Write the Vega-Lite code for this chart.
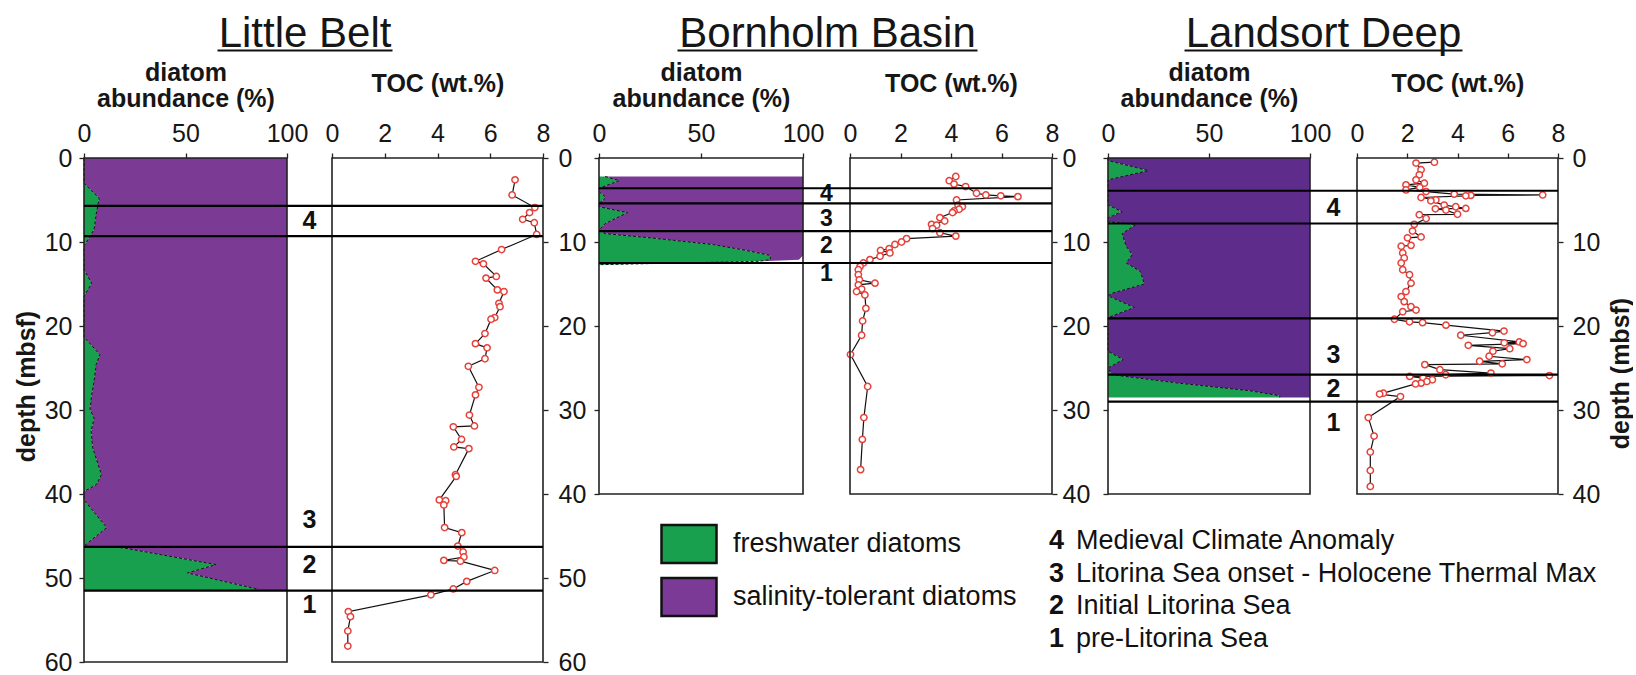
{
  "$schema": "https://vega.github.io/schema/vega-lite/v6.json",
  "background": "white",
  "padding": {"left": 14, "top": 12, "right": 0, "bottom": 0},
  "datasets": {
    "lb_diatoms": [
      {"depth": 0, "freshwater": 0, "salinity": 100}, {"depth": 3, "freshwater": 0, "salinity": 100},
      {"depth": 4.8, "freshwater": 7.5, "salinity": 92.5}, {"depth": 6.7, "freshwater": 6, "salinity": 94},
      {"depth": 8.5, "freshwater": 5, "salinity": 95}, {"depth": 10.5, "freshwater": 0, "salinity": 100},
      {"depth": 13.3, "freshwater": 0, "salinity": 100}, {"depth": 14.9, "freshwater": 3.8, "salinity": 96.2},
      {"depth": 16.5, "freshwater": 0, "salinity": 100}, {"depth": 21.3, "freshwater": 0, "salinity": 100},
      {"depth": 23.4, "freshwater": 7.8, "salinity": 92.2}, {"depth": 24.6, "freshwater": 6, "salinity": 94},
      {"depth": 26.5, "freshwater": 5, "salinity": 95}, {"depth": 28.2, "freshwater": 3.8, "salinity": 96.2},
      {"depth": 29.9, "freshwater": 3, "salinity": 97}, {"depth": 31, "freshwater": 5, "salinity": 95},
      {"depth": 32.5, "freshwater": 3.5, "salinity": 96.5}, {"depth": 34.5, "freshwater": 4.3, "salinity": 95.7},
      {"depth": 37.7, "freshwater": 8.6, "salinity": 91.4}, {"depth": 38.9, "freshwater": 6, "salinity": 94},
      {"depth": 39.7, "freshwater": 0, "salinity": 100}, {"depth": 40.7, "freshwater": 0, "salinity": 100},
      {"depth": 44, "freshwater": 11.2, "salinity": 88.8}, {"depth": 46.2, "freshwater": 0, "salinity": 100},
      {"depth": 46.4, "freshwater": 19, "salinity": 81}, {"depth": 48.4, "freshwater": 65, "salinity": 35},
      {"depth": 49.4, "freshwater": 51, "salinity": 49}, {"depth": 51.3, "freshwater": 85, "salinity": 15},
      {"depth": 51.5, "freshwater": 85, "salinity": 15}
    ],
    "bb_diatoms": [
      {"depth": 2.2, "freshwater": 3, "salinity": 97}, {"depth": 2.7, "freshwater": 10, "salinity": 90},
      {"depth": 3.6, "freshwater": 0, "salinity": 100}, {"depth": 4.0, "freshwater": 0, "salinity": 100},
      {"depth": 4.7, "freshwater": 3.5, "salinity": 96.5}, {"depth": 5.4, "freshwater": 0, "salinity": 100},
      {"depth": 5.8, "freshwater": 0, "salinity": 100}, {"depth": 6.5, "freshwater": 14, "salinity": 86},
      {"depth": 7.8, "freshwater": 3, "salinity": 97}, {"depth": 8.6, "freshwater": 0, "salinity": 100},
      {"depth": 9.0, "freshwater": 3, "salinity": 97}, {"depth": 9.5, "freshwater": 25, "salinity": 75},
      {"depth": 10.3, "freshwater": 56, "salinity": 44}, {"depth": 11.0, "freshwater": 72, "salinity": 28},
      {"depth": 11.6, "freshwater": 84, "salinity": 16}, {"depth": 12.1, "freshwater": 84, "salinity": 14},
      {"depth": 12.3, "freshwater": 78, "salinity": 0}, {"depth": 12.7, "freshwater": 0, "salinity": 0}
    ],
    "ld_diatoms": [
      {"depth": 0, "freshwater": 0, "salinity": 100}, {"depth": 0.3, "freshwater": 0, "salinity": 100},
      {"depth": 1.5, "freshwater": 20, "salinity": 80}, {"depth": 2.6, "freshwater": 0, "salinity": 100},
      {"depth": 5.6, "freshwater": 0, "salinity": 100}, {"depth": 6.4, "freshwater": 7, "salinity": 93},
      {"depth": 7.1, "freshwater": 0, "salinity": 100}, {"depth": 7.6, "freshwater": 0, "salinity": 100},
      {"depth": 7.9, "freshwater": 14, "salinity": 86}, {"depth": 9, "freshwater": 7, "salinity": 93},
      {"depth": 10.5, "freshwater": 9, "salinity": 91}, {"depth": 11.5, "freshwater": 12, "salinity": 88},
      {"depth": 12.5, "freshwater": 9, "salinity": 91}, {"depth": 13.5, "freshwater": 16, "salinity": 84},
      {"depth": 15, "freshwater": 18, "salinity": 82}, {"depth": 16.1, "freshwater": 2, "salinity": 98},
      {"depth": 16.4, "freshwater": 0, "salinity": 100}, {"depth": 17.8, "freshwater": 13, "salinity": 87},
      {"depth": 19, "freshwater": 0, "salinity": 100}, {"depth": 23, "freshwater": 0, "salinity": 100},
      {"depth": 24, "freshwater": 7.5, "salinity": 92.5}, {"depth": 25, "freshwater": 0, "salinity": 100},
      {"depth": 25.8, "freshwater": 2, "salinity": 98}, {"depth": 26.8, "freshwater": 35, "salinity": 65},
      {"depth": 27.7, "freshwater": 70, "salinity": 30}, {"depth": 28.3, "freshwater": 85, "salinity": 15},
      {"depth": 28.5, "freshwater": 85, "salinity": 15}
    ],
    "lb_toc": [
      {"depth": 2.6, "toc": 6.94}, {"depth": 4.4, "toc": 6.83}, {"depth": 5.9, "toc": 7.69}, {"depth": 6.5, "toc": 7.49},
      {"depth": 7.3, "toc": 7.23}, {"depth": 7.7, "toc": 7.67}, {"depth": 9.1, "toc": 7.76}, {"depth": 10.9, "toc": 6.43},
      {"depth": 12.3, "toc": 5.44}, {"depth": 12.6, "toc": 5.74}, {"depth": 14.1, "toc": 6.23}, {"depth": 14.3, "toc": 5.84},
      {"depth": 15.7, "toc": 6.27}, {"depth": 15.9, "toc": 6.52}, {"depth": 17.3, "toc": 6.33}, {"depth": 17.7, "toc": 6.37},
      {"depth": 19.0, "toc": 6.17}, {"depth": 19.2, "toc": 6.03}, {"depth": 20.9, "toc": 5.8}, {"depth": 22.1, "toc": 5.44},
      {"depth": 22.6, "toc": 5.88}, {"depth": 23.9, "toc": 5.8}, {"depth": 24.8, "toc": 5.17}, {"depth": 27.3, "toc": 5.57},
      {"depth": 28.2, "toc": 5.44}, {"depth": 30.6, "toc": 5.21}, {"depth": 31.9, "toc": 5.4}, {"depth": 32.0, "toc": 4.6},
      {"depth": 33.5, "toc": 4.91}, {"depth": 34.4, "toc": 4.62}, {"depth": 34.6, "toc": 5.19}, {"depth": 37.7, "toc": 4.68},
      {"depth": 37.9, "toc": 4.71}, {"depth": 40.7, "toc": 4.07}, {"depth": 40.8, "toc": 4.31}, {"depth": 41.3, "toc": 4.24},
      {"depth": 44.0, "toc": 4.27}, {"depth": 44.6, "toc": 4.92}, {"depth": 46.2, "toc": 4.77}, {"depth": 46.9, "toc": 4.97},
      {"depth": 47.5, "toc": 5.0}, {"depth": 47.9, "toc": 4.24}, {"depth": 48.0, "toc": 4.87}, {"depth": 49.1, "toc": 6.17},
      {"depth": 50.4, "toc": 5.11}, {"depth": 51.3, "toc": 4.6}, {"depth": 52.0, "toc": 3.75}, {"depth": 54.0, "toc": 0.62},
      {"depth": 54.6, "toc": 0.7}, {"depth": 56.3, "toc": 0.6}, {"depth": 58.1, "toc": 0.6}
    ],
    "bb_toc": [
      {"depth": 2.2, "toc": 4.19}, {"depth": 2.7, "toc": 3.93}, {"depth": 3.1, "toc": 4.12}, {"depth": 3.4, "toc": 4.58},
      {"depth": 4.2, "toc": 5.01}, {"depth": 4.4, "toc": 5.38}, {"depth": 4.5, "toc": 5.97}, {"depth": 4.6, "toc": 6.65},
      {"depth": 5.0, "toc": 4.22}, {"depth": 5.6, "toc": 4.28}, {"depth": 5.8, "toc": 4.45}, {"depth": 6.1, "toc": 4.32},
      {"depth": 6.3, "toc": 4.12}, {"depth": 6.5, "toc": 4.06}, {"depth": 7.1, "toc": 3.56}, {"depth": 7.5, "toc": 3.75},
      {"depth": 7.9, "toc": 3.23}, {"depth": 8.0, "toc": 3.43}, {"depth": 8.4, "toc": 3.27}, {"depth": 8.9, "toc": 3.56},
      {"depth": 9.3, "toc": 4.19}, {"depth": 9.6, "toc": 2.24}, {"depth": 10.0, "toc": 2.04}, {"depth": 10.3, "toc": 1.78},
      {"depth": 10.8, "toc": 1.55}, {"depth": 11.0, "toc": 1.21}, {"depth": 11.3, "toc": 1.58}, {"depth": 11.7, "toc": 1.19},
      {"depth": 12.1, "toc": 0.79}, {"depth": 12.5, "toc": 0.53}, {"depth": 12.9, "toc": 0.4}, {"depth": 13.3, "toc": 0.33},
      {"depth": 13.9, "toc": 0.33}, {"depth": 14.5, "toc": 0.37}, {"depth": 14.9, "toc": 0.99}, {"depth": 15.1, "toc": 0.33},
      {"depth": 15.6, "toc": 0.46}, {"depth": 15.9, "toc": 0.26}, {"depth": 16.3, "toc": 0.59}, {"depth": 17.9, "toc": 0.63},
      {"depth": 19.4, "toc": 0.5}, {"depth": 21.1, "toc": 0.46}, {"depth": 23.4, "toc": 0.02}, {"depth": 27.2, "toc": 0.7},
      {"depth": 30.9, "toc": 0.55}, {"depth": 33.5, "toc": 0.49}, {"depth": 37.1, "toc": 0.42}
    ],
    "ld_toc": [
      {"depth": 0.5, "toc": 3.08}, {"depth": 0.6, "toc": 2.35}, {"depth": 1.4, "toc": 2.55}, {"depth": 2.0, "toc": 2.48},
      {"depth": 2.6, "toc": 2.35}, {"depth": 3.0, "toc": 2.68}, {"depth": 3.2, "toc": 1.95}, {"depth": 3.5, "toc": 2.5},
      {"depth": 3.8, "toc": 1.95}, {"depth": 4.0, "toc": 2.75}, {"depth": 4.3, "toc": 3.87}, {"depth": 4.4, "toc": 7.39},
      {"depth": 4.45, "toc": 4.53}, {"depth": 4.5, "toc": 4.33}, {"depth": 4.7, "toc": 2.55}, {"depth": 5.0, "toc": 3.14},
      {"depth": 5.1, "toc": 2.94}, {"depth": 5.6, "toc": 3.47}, {"depth": 5.8, "toc": 3.93}, {"depth": 6.0, "toc": 4.33},
      {"depth": 6.05, "toc": 3.12}, {"depth": 6.2, "toc": 3.54}, {"depth": 6.7, "toc": 4.0}, {"depth": 6.75, "toc": 2.48},
      {"depth": 7.2, "toc": 2.75}, {"depth": 7.9, "toc": 2.28}, {"depth": 8.7, "toc": 2.21}, {"depth": 9.4, "toc": 2.55},
      {"depth": 9.5, "toc": 2.01}, {"depth": 10.4, "toc": 2.15}, {"depth": 10.5, "toc": 1.76}, {"depth": 11.3, "toc": 1.82},
      {"depth": 11.9, "toc": 1.88}, {"depth": 12.5, "toc": 1.76}, {"depth": 13.3, "toc": 1.82}, {"depth": 13.9, "toc": 2.09},
      {"depth": 14.9, "toc": 2.15}, {"depth": 15.9, "toc": 1.95}, {"depth": 16.5, "toc": 1.76}, {"depth": 17.1, "toc": 1.88},
      {"depth": 17.7, "toc": 2.15}, {"depth": 18.1, "toc": 2.35}, {"depth": 18.3, "toc": 1.82}, {"depth": 19.2, "toc": 1.49},
      {"depth": 19.5, "toc": 2.09}, {"depth": 19.6, "toc": 2.61}, {"depth": 19.9, "toc": 3.54}, {"depth": 20.6, "toc": 5.85},
      {"depth": 20.8, "toc": 5.39}, {"depth": 21.1, "toc": 4.13}, {"depth": 21.9, "toc": 6.46}, {"depth": 22.0, "toc": 5.86},
      {"depth": 22.1, "toc": 6.61}, {"depth": 22.3, "toc": 4.43}, {"depth": 22.7, "toc": 6.08}, {"depth": 23.0, "toc": 5.41},
      {"depth": 23.6, "toc": 5.26}, {"depth": 24.0, "toc": 6.76}, {"depth": 24.2, "toc": 4.88}, {"depth": 24.5, "toc": 5.78},
      {"depth": 24.6, "toc": 2.7}, {"depth": 25.2, "toc": 3.3}, {"depth": 25.6, "toc": 5.33}, {"depth": 25.8, "toc": 3.53},
      {"depth": 25.9, "toc": 7.66}, {"depth": 26.0, "toc": 2.1}, {"depth": 26.2, "toc": 2.63}, {"depth": 26.4, "toc": 3.0},
      {"depth": 26.6, "toc": 2.78}, {"depth": 26.8, "toc": 2.55}, {"depth": 26.9, "toc": 2.33}, {"depth": 28.0, "toc": 1.05},
      {"depth": 28.1, "toc": 0.9}, {"depth": 28.4, "toc": 1.73}, {"depth": 30.9, "toc": 0.45}, {"depth": 33.1, "toc": 0.68},
      {"depth": 35.0, "toc": 0.53}, {"depth": 37.2, "toc": 0.53}, {"depth": 39.1, "toc": 0.53}
    ],
    "lb_periods": [{"depth": 5.7}, {"depth": 9.3}, {"depth": 46.3}, {"depth": 51.5}],
    "bb_periods": [{"depth": 3.6}, {"depth": 5.4}, {"depth": 8.7}, {"depth": 12.5}],
    "ld_periods": [{"depth": 3.9}, {"depth": 7.8}, {"depth": 19.1}, {"depth": 25.8}, {"depth": 29.0}],
    "lb_labels": [{"period": 4, "depth": 7.5}, {"period": 3, "depth": 43.1}, {"period": 2, "depth": 48.5}, {"period": 1, "depth": 53.2}],
    "bb_labels": [{"period": 4, "depth": 4.3}, {"period": 3, "depth": 7.3}, {"period": 2, "depth": 10.5}, {"period": 1, "depth": 13.8}],
    "ld_labels": [{"period": 4, "depth": 6.0}, {"period": 3, "depth": 23.4}, {"period": 2, "depth": 27.5}, {"period": 1, "depth": 31.6}],
    "period_names": [
      {"period": 4, "name": "Medieval Climate Anomaly"},
      {"period": 3, "name": "Litorina Sea onset - Holocene Thermal Max"},
      {"period": 2, "name": "Initial Litorina Sea"},
      {"period": 1, "name": "pre-Litorina Sea"}
    ]
  },
  "hconcat": [
    {
      "width": 459,
      "height": 504,
      "resolve": {"scale": {"x": "independent"}, "axis": {"x": "independent", "y": "independent"}},
      "layer": [
        {
          "data": {"values": [{"site": "Little Belt"}]},
          "mark": {"type": "rule", "opacity": 0},
          "encoding": {
            "x": {"datum": 0.5, "type": "quantitative", "scale": {"domain": [0, 1], "range": [133, 308]},
              "axis": {"orient": "top", "offset": 108, "domain": true, "domainWidth": 2, "domainColor": "#111", "ticks": false, "labels": false,
                "title": "Little Belt", "titleFontSize": 42, "titleFontWeight": "normal", "titleY": -4, "titleBaseline": "alphabetic"}}
          }
        },
        {
          "data": {"name": "lb_diatoms"},
          "transform": [{"fold": ["freshwater", "salinity"], "as": ["group", "pct"]}],
          "mark": {"type": "area", "orient": "horizontal", "opacity": 1},
          "encoding": {
            "y": {"field": "depth", "type": "quantitative", "scale": {"domain": [0, 60], "reverse": true, "nice": false, "zero": false},
              "axis": {"orient": "left", "values": [0, 10, 20, 30, 40, 50, 60], "labelPadding": 7, "title": "depth (mbsf)",
                "titleX": -58, "titleY": 228, "titleBaseline": "middle", "titleAngle": 270, "titleAlign": "center"}},
            "x": {"field": "pct", "type": "quantitative", "stack": "zero", "scale": {"domain": [0, 100], "range": [0, 203], "nice": false},
              "axis": {"orient": "top", "values": [0, 50, 100], "labelPadding": 7, "title": ["diatom", "abundance (%)"],
                "titleBaseline": "middle", "titleY": -86, "titleLineHeight": 26}},
            "color": {"field": "group", "type": "nominal", "scale": {"domain": ["freshwater", "salinity"], "range": ["#18a04e", "#7b3a94"]}, "legend": null}
          }
        },
        {
          "data": {"name": "lb_diatoms"},
          "mark": {"type": "line", "color": "#111", "strokeWidth": 1, "strokeDash": [3, 2]},
          "encoding": {
            "y": {"field": "depth", "type": "quantitative", "axis": null},
            "x": {"field": "freshwater", "type": "quantitative", "scale": {"domain": [0, 100], "range": [0, 203], "nice": false}, "axis": null},
            "order": {"field": "depth"}
          }
        },
        {
          "data": {"values": [{}]},
          "mark": {"type": "rect", "filled": false, "color": "#222", "strokeWidth": 1.6},
          "encoding": {
            "x": {"datum": 0, "type": "quantitative", "scale": {"domain": [0, 100], "range": [0, 203], "nice": false}, "axis": null}, "x2": {"datum": 100},
            "y": {"datum": 0, "type": "quantitative", "axis": null}, "y2": {"datum": 60}
          }
        },
        {
          "data": {"name": "lb_labels"},
          "mark": {"type": "text", "fontWeight": "bold", "fontSize": 25, "align": "center", "baseline": "middle", "dx": 22.5, "color": "#111"},
          "encoding": {
            "x": {"datum": 100, "type": "quantitative", "scale": {"domain": [0, 100], "range": [0, 203], "nice": false}, "axis": null},
            "y": {"field": "depth", "type": "quantitative", "axis": null},
            "text": {"field": "period"}
          }
        },
        {
          "data": {"name": "lb_toc"},
          "mark": {"type": "line", "color": "#111", "strokeWidth": 1.2},
          "encoding": {
            "x": {"field": "toc", "type": "quantitative", "scale": {"domain": [0, 8], "range": [248, 459], "nice": false},
              "axis": {"orient": "top", "values": [0, 2, 4, 6, 8], "labelPadding": 7, "title": "TOC (wt.%)", "titleBaseline": "middle", "titleY": -75}},
            "y": {"field": "depth", "type": "quantitative",
              "axis": {"orient": "right", "values": [0, 10, 20, 30, 40, 50, 60], "labelPadding": 10, "title": null}},
            "order": {"field": "depth"}
          }
        },
        {
          "data": {"name": "lb_toc"},
          "mark": {"type": "point", "shape": "circle", "filled": true, "fill": "white", "stroke": "#e5413a", "strokeWidth": 1.5, "size": 40, "opacity": 1},
          "encoding": {
            "x": {"field": "toc", "type": "quantitative", "scale": {"domain": [0, 8], "range": [248, 459], "nice": false}, "axis": null},
            "y": {"field": "depth", "type": "quantitative", "axis": null}
          }
        },
        {
          "data": {"values": [{}]},
          "mark": {"type": "rect", "filled": false, "color": "#222", "strokeWidth": 1.6},
          "encoding": {
            "x": {"datum": 0, "type": "quantitative", "scale": {"domain": [0, 8], "range": [248, 459], "nice": false}, "axis": null}, "x2": {"datum": 8},
            "y": {"datum": 0, "type": "quantitative", "axis": null}, "y2": {"datum": 60}
          }
        },
        {
          "data": {"name": "lb_periods"},
          "mark": {"type": "rule", "color": "#000", "strokeWidth": 2.2},
          "encoding": {"y": {"field": "depth", "type": "quantitative", "axis": null}}
        }
      ]
    },
    {
      "width": 453,
      "height": 336,
      "resolve": {"scale": {"x": "independent"}, "axis": {"x": "independent", "y": "independent"}},
      "layer": [
        {
          "data": {"values": [{"site": "Bornholm Basin"}]},
          "mark": {"type": "rule", "opacity": 0},
          "encoding": {
            "x": {"datum": 0.5, "type": "quantitative", "scale": {"domain": [0, 1], "range": [78, 378]},
              "axis": {"orient": "top", "offset": 108, "domain": true, "domainWidth": 2, "domainColor": "#111", "ticks": false, "labels": false,
                "title": "Bornholm Basin", "titleFontSize": 42, "titleFontWeight": "normal", "titleY": -4, "titleBaseline": "alphabetic"}}
          }
        },
        {
          "data": {"name": "bb_diatoms"},
          "transform": [{"fold": ["freshwater", "salinity"], "as": ["group", "pct"]}],
          "mark": {"type": "area", "orient": "horizontal", "opacity": 1},
          "encoding": {
            "y": {"field": "depth", "type": "quantitative", "scale": {"domain": [0, 40], "reverse": true, "nice": false, "zero": false},
              "axis": {"orient": "left", "values": [0, 10, 20, 30, 40], "labels": false, "title": null}},
            "x": {"field": "pct", "type": "quantitative", "stack": "zero", "scale": {"domain": [0, 100], "range": [0, 204], "nice": false},
              "axis": {"orient": "top", "values": [0, 50, 100], "labelPadding": 7, "title": ["diatom", "abundance (%)"],
                "titleBaseline": "middle", "titleY": -86, "titleLineHeight": 26}},
            "color": {"field": "group", "type": "nominal", "scale": {"domain": ["freshwater", "salinity"], "range": ["#18a04e", "#7b3a96"]},
              "legend": {"orient": "none", "legendX": 61, "legendY": 357, "direction": "vertical", "title": null,
                "symbolType": "M-1,-0.69H1V0.69H-1Z", "symbolSize": 3025, "symbolStrokeColor": "#111", "symbolStrokeWidth": 2.5, "symbolOpacity": 1,
                "labelFontSize": 27, "labelFont": "Liberation Sans", "labelColor": "#111", "labelOffset": 15, "rowPadding": -3.5, "padding": 0, "labelLimit": 400,
                "labelExpr": "datum.label == 'freshwater' ? 'freshwater diatoms' : 'salinity-tolerant diatoms'",
                "encode": {"symbols": {"update": {"stroke": {"value": "#111"}, "strokeWidth": {"value": 2.5}}}}}}
          }
        },
        {
          "data": {"name": "bb_diatoms"},
          "mark": {"type": "line", "color": "#111", "strokeWidth": 1, "strokeDash": [3, 2]},
          "encoding": {
            "y": {"field": "depth", "type": "quantitative", "axis": null},
            "x": {"field": "freshwater", "type": "quantitative", "scale": {"domain": [0, 100], "range": [0, 204], "nice": false}, "axis": null},
            "order": {"field": "depth"}
          }
        },
        {
          "data": {"values": [{}]},
          "mark": {"type": "rect", "filled": false, "color": "#222", "strokeWidth": 1.6},
          "encoding": {
            "x": {"datum": 0, "type": "quantitative", "scale": {"domain": [0, 100], "range": [0, 204], "nice": false}, "axis": null}, "x2": {"datum": 100},
            "y": {"datum": 0, "type": "quantitative", "axis": null}, "y2": {"datum": 40}
          }
        },
        {
          "data": {"name": "bb_labels"},
          "mark": {"type": "text", "fontWeight": "bold", "fontSize": 23, "align": "center", "baseline": "middle", "dx": 23.5, "color": "#111"},
          "encoding": {
            "x": {"datum": 100, "type": "quantitative", "scale": {"domain": [0, 100], "range": [0, 204], "nice": false}, "axis": null},
            "y": {"field": "depth", "type": "quantitative", "axis": null},
            "text": {"field": "period"}
          }
        },
        {
          "data": {"name": "bb_toc"},
          "mark": {"type": "line", "color": "#111", "strokeWidth": 1.2},
          "encoding": {
            "x": {"field": "toc", "type": "quantitative", "scale": {"domain": [0, 8], "range": [251, 453], "nice": false},
              "axis": {"orient": "top", "values": [0, 2, 4, 6, 8], "labelPadding": 7, "title": "TOC (wt.%)", "titleBaseline": "middle", "titleY": -75}},
            "y": {"field": "depth", "type": "quantitative",
              "axis": {"orient": "right", "values": [0, 10, 20, 30, 40], "labelPadding": 5, "title": null}},
            "order": {"field": "depth"}
          }
        },
        {
          "data": {"name": "bb_toc"},
          "mark": {"type": "point", "shape": "circle", "filled": true, "fill": "white", "stroke": "#e5413a", "strokeWidth": 1.5, "size": 40, "opacity": 1},
          "encoding": {
            "x": {"field": "toc", "type": "quantitative", "scale": {"domain": [0, 8], "range": [251, 453], "nice": false}, "axis": null},
            "y": {"field": "depth", "type": "quantitative", "axis": null}
          }
        },
        {
          "data": {"values": [{}]},
          "mark": {"type": "rect", "filled": false, "color": "#222", "strokeWidth": 1.6},
          "encoding": {
            "x": {"datum": 0, "type": "quantitative", "scale": {"domain": [0, 8], "range": [251, 453], "nice": false}, "axis": null}, "x2": {"datum": 8},
            "y": {"datum": 0, "type": "quantitative", "axis": null}, "y2": {"datum": 40}
          }
        },
        {
          "data": {"name": "bb_periods"},
          "mark": {"type": "rule", "color": "#000", "strokeWidth": 2.2},
          "encoding": {"y": {"field": "depth", "type": "quantitative", "axis": null}}
        }
      ]
    },
    {
      "vconcat": [
        {
          "width": 450,
          "height": 336,
          "resolve": {"scale": {"x": "independent"}, "axis": {"x": "independent", "y": "independent"}},
          "layer": [
            {
              "data": {"values": [{"site": "Landsort Deep"}]},
              "mark": {"type": "rule", "opacity": 0},
              "encoding": {
                "x": {"datum": 0.5, "type": "quantitative", "scale": {"domain": [0, 1], "range": [76, 354]},
                  "axis": {"orient": "top", "offset": 108, "domain": true, "domainWidth": 2, "domainColor": "#111", "ticks": false, "labels": false,
                    "title": "Landsort Deep", "titleFontSize": 42, "titleFontWeight": "normal", "titleY": -4, "titleBaseline": "alphabetic"}}
              }
            },
            {
              "data": {"name": "ld_diatoms"},
              "transform": [{"fold": ["freshwater", "salinity"], "as": ["group", "pct"]}],
              "mark": {"type": "area", "orient": "horizontal", "opacity": 1},
              "encoding": {
                "y": {"field": "depth", "type": "quantitative", "scale": {"domain": [0, 40], "reverse": true, "nice": false, "zero": false},
                  "axis": {"orient": "left", "values": [0, 10, 20, 30, 40], "labels": false, "title": null}},
                "x": {"field": "pct", "type": "quantitative", "stack": "zero", "scale": {"domain": [0, 100], "range": [0, 202], "nice": false},
                  "axis": {"orient": "top", "values": [0, 50, 100], "labelPadding": 7, "title": ["diatom", "abundance (%)"],
                    "titleBaseline": "middle", "titleY": -86, "titleLineHeight": 26}},
                "color": {"field": "group", "type": "nominal", "scale": {"domain": ["freshwater", "salinity"], "range": ["#18a04e", "#5e2d8c"]}, "legend": null}
              }
            },
            {
              "data": {"name": "ld_diatoms"},
              "mark": {"type": "line", "color": "#111", "strokeWidth": 1, "strokeDash": [3, 2]},
              "encoding": {
                "y": {"field": "depth", "type": "quantitative", "axis": null},
                "x": {"field": "freshwater", "type": "quantitative", "scale": {"domain": [0, 100], "range": [0, 202], "nice": false}, "axis": null},
                "order": {"field": "depth"}
              }
            },
            {
              "data": {"values": [{}]},
              "mark": {"type": "rect", "filled": false, "color": "#222", "strokeWidth": 1.6},
              "encoding": {
                "x": {"datum": 0, "type": "quantitative", "scale": {"domain": [0, 100], "range": [0, 202], "nice": false}, "axis": null}, "x2": {"datum": 100},
                "y": {"datum": 0, "type": "quantitative", "axis": null}, "y2": {"datum": 40}
              }
            },
            {
              "data": {"name": "ld_labels"},
              "mark": {"type": "text", "fontWeight": "bold", "fontSize": 25, "align": "center", "baseline": "middle", "dx": 23.5, "color": "#111"},
              "encoding": {
                "x": {"datum": 100, "type": "quantitative", "scale": {"domain": [0, 100], "range": [0, 202], "nice": false}, "axis": null},
                "y": {"field": "depth", "type": "quantitative", "axis": null},
                "text": {"field": "period"}
              }
            },
            {
              "data": {"name": "ld_toc"},
              "mark": {"type": "line", "color": "#111", "strokeWidth": 1.2},
              "encoding": {
                "x": {"field": "toc", "type": "quantitative", "scale": {"domain": [0, 8], "range": [249, 450], "nice": false},
                  "axis": {"orient": "top", "values": [0, 2, 4, 6, 8], "labelPadding": 7, "title": "TOC (wt.%)", "titleBaseline": "middle", "titleY": -75}},
                "y": {"field": "depth", "type": "quantitative",
                  "axis": {"orient": "right", "values": [0, 10, 20, 30, 40], "labelPadding": 9, "title": "depth (mbsf)",
                    "titleX": 62, "titleY": 215, "titleBaseline": "middle", "titleAngle": 270, "titleAlign": "center"}},
                "order": {"field": "depth"}
              }
            },
            {
              "data": {"name": "ld_toc"},
              "mark": {"type": "point", "shape": "circle", "filled": true, "fill": "white", "stroke": "#e5413a", "strokeWidth": 1.5, "size": 40, "opacity": 1},
              "encoding": {
                "x": {"field": "toc", "type": "quantitative", "scale": {"domain": [0, 8], "range": [249, 450], "nice": false}, "axis": null},
                "y": {"field": "depth", "type": "quantitative", "axis": null}
              }
            },
            {
              "data": {"values": [{}]},
              "mark": {"type": "rect", "filled": false, "color": "#222", "strokeWidth": 1.6},
              "encoding": {
                "x": {"datum": 0, "type": "quantitative", "scale": {"domain": [0, 8], "range": [249, 450], "nice": false}, "axis": null}, "x2": {"datum": 8},
                "y": {"datum": 0, "type": "quantitative", "axis": null}, "y2": {"datum": 40}
              }
            },
            {
              "data": {"name": "ld_periods"},
              "mark": {"type": "rule", "color": "#000", "strokeWidth": 2.2},
              "encoding": {"y": {"field": "depth", "type": "quantitative", "axis": null}}
            }
          ]
        },
        {
          "width": 450,
          "height": 130,
          "data": {"name": "period_names"},
          "encoding": {"y": {"field": "period", "type": "ordinal", "sort": "descending", "scale": {"padding": 0.5}, "axis": null}},
          "layer": [
            {
              "mark": {"type": "text", "align": "left", "baseline": "middle", "fontSize": 27, "fontWeight": "bold", "color": "#111"},
              "encoding": {
                "x": {"datum": "number", "type": "nominal", "scale": {"type": "point", "domain": ["number", "name"], "range": [-59, -32], "padding": 0}, "axis": null},
                "text": {"field": "period"}
              }
            },
            {
              "mark": {"type": "text", "align": "left", "baseline": "middle", "fontSize": 27, "color": "#111"},
              "encoding": {
                "x": {"datum": "name", "type": "nominal", "axis": null},
                "text": {"field": "name"}
              }
            }
          ]
        }
      ],
      "spacing": 31,
      "bounds": "flush"
    }
  ],
  "spacing": 56,
  "bounds": "flush",
  "resolve": {"scale": {"color": "independent"}},
  "config": {
    "view": {"stroke": null},
    "font": "Liberation Sans",
    "axis": {
      "labelFont": "Liberation Sans", "labelFontSize": 25, "labelColor": "#161616",
      "titleFont": "Liberation Sans", "titleFontSize": 25, "titleFontWeight": "bold", "titleColor": "#161616",
      "tickColor": "#222", "tickWidth": 1.3, "tickSize": 5, "domain": false, "grid": false,
      "labelFlush": false, "labelOverlap": false
    },
    "text": {"font": "Liberation Sans"},
    "legend": {"labelFont": "Liberation Sans"}
  }
}
